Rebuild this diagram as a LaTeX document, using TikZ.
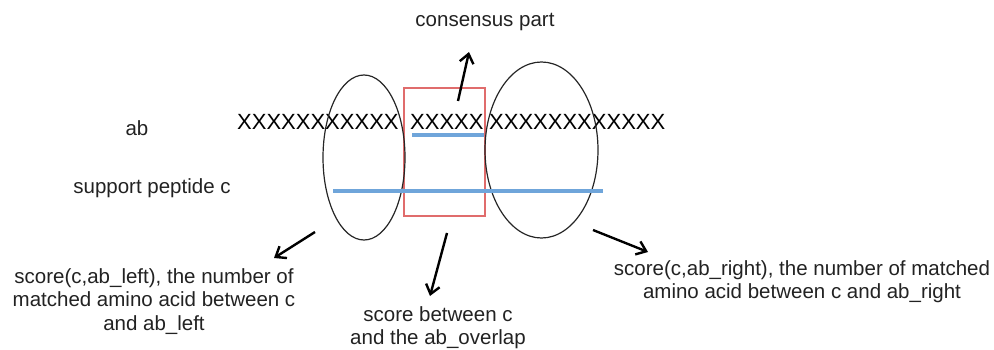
\documentclass[tikz,border=0pt]{standalone}
\usepackage{fontspec}
\setmainfont{Liberation Sans}
\usetikzlibrary{shapes.geometric,arrows.meta}
\definecolor{txt}{HTML}{222222}
\definecolor{boxred}{HTML}{E06C6C}
\definecolor{seqblue}{HTML}{6FA5DA}
\tikzset{
  lbl/.style={font=\fontsize{20.5}{23.5}\selectfont, text=txt, align=center, inner sep=0pt},
  seq/.style={font=\fontsize{22}{24}\selectfont, text=black, inner sep=0pt, anchor=west},
  region/.style={draw=black!85, line width=1.2pt, ellipse, inner sep=0pt},
  overlap/.style={draw=boxred, line width=1.6pt},
  match/.style={draw=seqblue, line width=3.4pt},
  pointer/.style={draw=black, line width=2.4pt, -{Straight Barb[length=9pt,width=14pt,line width=2.4pt]}}
}
\begin{document}
\begin{tikzpicture}[x=1pt,y=-1pt]
\useasboundingbox (0,0) rectangle (994,350);

% row labels
\node[lbl] (ab) at (137,128) {ab};
\node[lbl] (sup) at (152,188) {support peptide c};

% antibody sequence
\node[seq] (sleft) at (237,122) {XXXXXXXXXXX};
\node[seq] (smid) at (410,122) {XXXXX};
\node[seq] (sright) at (489,122) {XXXXXXXXXXXX};

% overlap box and flanking regions
\draw[overlap] (404,88) rectangle (485,216);
\node[region, minimum width=82pt, minimum height=165pt] (eleft) at (364,157.5) {};
\node[region, minimum width=113pt, minimum height=176pt] (eright) at (541.5,150) {};

% matched stretches
\draw[match] (412,135) -- (484,135);
\draw[match] (333,191) -- (603,191);

% annotations
\node[lbl] (cons) at (485,22) {consensus part};
\node[lbl, anchor=north] (lscore) at (154,268) {score(c,ab\_left), the number of\\matched amino acid between c\\and ab\_left};
\node[lbl, anchor=north] (mscore) at (438,306) {score between c\\and the ab\_overlap};
\node[lbl, anchor=north] (rscore) at (802,260) {score(c,ab\_right), the number of matched\\amino acid between c and ab\_right};

\coordinate (c1s) at (458,101);
\coordinate (c1e) at (469,52);
\coordinate (c2s) at (315,232);
\coordinate (c2e) at (274,258);
\coordinate (c3s) at (447,233);
\coordinate (c3e) at (430,296);
\coordinate (c4s) at (593,230);
\coordinate (c4e) at (648,252);
\draw[pointer] (c1s) -- (c1e);
\draw[pointer] (c2s) -- (c2e);
\draw[pointer] (c3s) -- (c3e);
\draw[pointer] (c4s) -- (c4e);
\end{tikzpicture}
\end{document}
